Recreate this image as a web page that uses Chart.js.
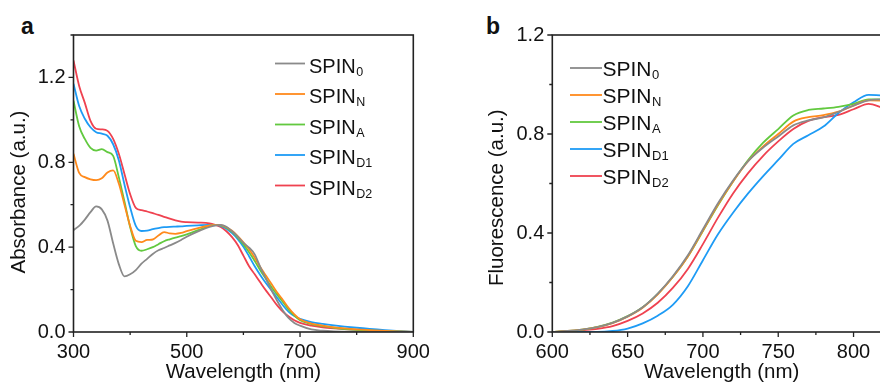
<!DOCTYPE html>
<html>
<head>
<meta charset="utf-8">
<script src="https://cdn.jsdelivr.net/npm/chart.js@4.4.0/dist/chart.umd.min.js"></script>
<style>
  html, body { margin: 0; padding: 0; background: #fff; overflow: hidden; }
  body { width: 880px; height: 383px; position: relative; }
  .panel { position: absolute; top: 0; height: 385px; }
  #boxA { left: 0; width: 440px; }
  #boxB { left: 440px; width: 460px; }
  .tag { position: absolute; top: 15px; font: bold 23px "Liberation Sans", Arial, sans-serif; line-height: 23px; color: #111; }
</style>
</head>
<body>
<div class="tag" style="left:21px">a</div>
<div class="tag" style="left:486px">b</div>
<div class="panel" id="boxA"><canvas id="absChart" width="440" height="385"></canvas></div>
<div class="panel" id="boxB"><canvas id="fluChart" width="460" height="385"></canvas></div>
<script>
// --- data ---
const wavelengthsA = [300, 310, 320, 330, 340, 350, 360, 370, 380, 390, 400, 410, 420, 430, 440, 450, 460, 470, 480, 490, 500,
  520, 540, 550, 560, 570, 580, 590, 600, 610, 620, 630, 640, 650, 660, 670, 680, 690, 700, 720, 740, 760, 800, 850, 900];
const absSpin0 = [0.48, 0.50, 0.53, 0.565, 0.592, 0.578, 0.525, 0.418, 0.32, 0.262, 0.272, 0.292, 0.322, 0.345, 0.368, 0.385, 0.396, 0.408, 0.42, 0.434, 0.449,
  0.474, 0.495, 0.502, 0.505, 0.496, 0.475, 0.45, 0.42, 0.398, 0.366, 0.305, 0.25, 0.195, 0.145, 0.10, 0.065, 0.043, 0.03, 0.012, 0.006, 0.003, 0.001, 0, 0];
const absSpinN = [0.84, 0.75, 0.73, 0.72, 0.716, 0.725, 0.752, 0.762, 0.70, 0.60, 0.50, 0.43, 0.424, 0.434, 0.436, 0.455, 0.471, 0.465, 0.463, 0.467, 0.475,
  0.49, 0.502, 0.505, 0.504, 0.494, 0.477, 0.452, 0.423, 0.39, 0.35, 0.305, 0.265, 0.225, 0.185, 0.15, 0.113, 0.083, 0.06, 0.04, 0.03, 0.022, 0.012, 0.005, 0];
const absSpinA = [1.09, 0.97, 0.91, 0.868, 0.855, 0.862, 0.848, 0.83, 0.73, 0.615, 0.495, 0.405, 0.383, 0.39, 0.40, 0.414, 0.428, 0.437, 0.445, 0.452, 0.46,
  0.48, 0.499, 0.505, 0.503, 0.492, 0.472, 0.445, 0.413, 0.376, 0.335, 0.29, 0.25, 0.21, 0.175, 0.14, 0.105, 0.077, 0.055, 0.037, 0.028, 0.02, 0.01, 0.004, 0];
const absSpinD1 = [1.17, 1.065, 1.005, 0.965, 0.942, 0.935, 0.925, 0.885, 0.81, 0.695, 0.588, 0.50, 0.476, 0.478, 0.485, 0.49, 0.494, 0.496, 0.497, 0.498, 0.50,
  0.503, 0.505, 0.505, 0.50, 0.487, 0.466, 0.438, 0.402, 0.357, 0.31, 0.268, 0.23, 0.195, 0.16, 0.125, 0.095, 0.075, 0.062, 0.047, 0.038, 0.031, 0.02, 0.009, 0];
const absSpinD2 = [1.28, 1.16, 1.08, 0.995, 0.958, 0.955, 0.948, 0.91, 0.84, 0.745, 0.65, 0.585, 0.574, 0.568, 0.56, 0.552, 0.543, 0.534, 0.526, 0.52, 0.518,
  0.516, 0.512, 0.505, 0.495, 0.475, 0.447, 0.41, 0.36, 0.31, 0.272, 0.233, 0.195, 0.16, 0.124, 0.095, 0.073, 0.055, 0.043, 0.03, 0.022, 0.017, 0.01, 0.004, 0];

const wavelengthsB = [600, 610, 620, 630, 640, 650, 660, 670, 680, 690, 700, 710, 720, 730, 740, 750, 760, 770, 780, 790, 800, 810, 820, 825];
const fluSpin0 = [0, 0.004, 0.01, 0.02, 0.037, 0.063, 0.10, 0.155, 0.225, 0.31, 0.415, 0.52, 0.612, 0.69, 0.745, 0.79, 0.835, 0.855, 0.867, 0.89, 0.915, 0.936, 0.94, 0.938];
const fluSpinN = [0, 0.004, 0.01, 0.02, 0.036, 0.062, 0.098, 0.152, 0.222, 0.305, 0.41, 0.515, 0.608, 0.69, 0.75, 0.80, 0.85, 0.868, 0.876, 0.89, 0.915, 0.936, 0.935, 0.93];
const fluSpinA = [0, 0.004, 0.01, 0.021, 0.038, 0.064, 0.10, 0.154, 0.222, 0.305, 0.408, 0.512, 0.608, 0.695, 0.765, 0.82, 0.875, 0.897, 0.903, 0.91, 0.922, 0.94, 0.94, 0.937];
const fluSpinD1 = [0, 0, 0, 0, 0.004, 0.014, 0.035, 0.066, 0.11, 0.185, 0.29, 0.395, 0.482, 0.56, 0.63, 0.695, 0.76, 0.795, 0.83, 0.885, 0.928, 0.958, 0.955, 0.95];
const fluSpinD2 = [0, 0.002, 0.007, 0.013, 0.024, 0.045, 0.075, 0.118, 0.178, 0.255, 0.355, 0.462, 0.56, 0.642, 0.712, 0.77, 0.82, 0.853, 0.868, 0.877, 0.90, 0.922, 0.905, 0.90];

const seriesBase = 'SPIN';
const seriesSubs = ['0', 'N', 'A', 'D1', 'D2'];
const seriesColors = ['#8a8a8a', '#ff8a1c', '#62c93f', '#1e9bf5', '#ef4250'];

const xLabelsA = [300, 500, 700, 900];
const yLabelsA = ['0.0', '0.4', '0.8', '1.2'];
const xLabelsB = [600, 650, 700, 750, 800];
const yLabelsB = ['0.0', '0.4', '0.8', '1.2'];

const FONT = '"Liberation Sans", Arial, sans-serif';
const INK = '#111';

function makeDatasets(xs, seriesList) {
  return seriesList.map((vals, i) => ({
    label: seriesBase + seriesSubs[i],
    sub: seriesSubs[i],
    data: xs.map((x, j) => ({ x: x, y: vals[j] })),
    borderColor: seriesColors[i],
    borderWidth: 1.8,
    pointRadius: 0,
    cubicInterpolationMode: 'monotone',
    fill: false
  }));
}

// frame round the plot plus major / minor tick marks
const framePlugin = {
  id: 'frame',
  afterDraw(chart) {
    const { ctx, chartArea: a, scales } = chart;
    ctx.save();
    ctx.strokeStyle = '#222';
    ctx.lineWidth = 1.6;
    ctx.strokeRect(a.left, a.top, a.right - a.left, a.bottom - a.top);
    ctx.lineWidth = 1.3;
    ctx.beginPath();
    scales.x.ticks.forEach(t => {
      const px = scales.x.getPixelForValue(t.value);
      ctx.moveTo(px, a.bottom);
      ctx.lineTo(px, a.bottom + (t.label ? 5 : 3));
    });
    scales.y.ticks.forEach(t => {
      const py = scales.y.getPixelForValue(t.value);
      ctx.moveTo(a.left, py);
      ctx.lineTo(a.left - (t.label ? 5 : 3), py);
    });
    ctx.stroke();
    ctx.restore();
  }
};

// legend with subscripts
const subLegendPlugin = {
  id: 'subLegend',
  afterDatasetsDraw(chart, args, o) {
    const ctx = chart.ctx;
    chart.data.datasets.forEach((ds, i) => {
      const y = o.y + i * o.gap;
      ctx.save();
      ctx.strokeStyle = ds.borderColor;
      ctx.lineWidth = ds.borderWidth;
      ctx.beginPath();
      ctx.moveTo(o.x, y);
      ctx.lineTo(o.x + o.lineLen, y);
      ctx.stroke();
      ctx.fillStyle = INK;
      ctx.textBaseline = 'alphabetic';
      ctx.font = o.size + 'px ' + FONT;
      const tx = o.x + o.lineLen + o.textGap;
      ctx.fillText(seriesBase, tx, y + o.drop);
      const w = ctx.measureText(seriesBase).width;
      ctx.font = o.subSize + 'px ' + FONT;
      ctx.fillText(ds.sub, tx + w + 0.5, y + o.drop + 3);
      ctx.restore();
    });
  }
};

function makeOptions(p) {
  return {
    responsive: false,
    animation: false,
    layout: { padding: p.pad },
    plugins: {
      legend: { display: false },
      tooltip: { enabled: false },
      subLegend: p.legend
    },
    scales: {
      x: {
        type: 'linear',
        min: p.xMin,
        max: p.xMax,
        ticks: {
          stepSize: p.xStep,
          autoSkip: false,
          maxRotation: 0,
          padding: 3,
          color: INK,
          font: { family: FONT, size: 20 },
          callback: v => p.xLabels.includes(Math.round(v)) ? String(Math.round(v)) : ''
        },
        grid: { drawOnChartArea: false, tickLength: 5, tickColor: 'transparent' },
        border: { display: false },
        title: {
          display: true,
          text: 'Wavelength (nm)',
          color: INK,
          font: { family: FONT, size: 20.5 },
          padding: { top: 0, bottom: 0 }
        },
        afterFit: s => { s.height = 53; s.paddingLeft = 0; s.paddingRight = 0; }
      },
      y: {
        type: 'linear',
        min: 0,
        max: p.yMax,
        ticks: {
          stepSize: 0.2,
          autoSkip: false,
          padding: 3,
          color: INK,
          font: { family: FONT, size: 20 },
          callback: v => p.yLabels.includes(v.toFixed(1)) ? v.toFixed(1) : ''
        },
        grid: { drawOnChartArea: false, tickLength: 5, tickColor: 'transparent' },
        border: { display: false },
        title: {
          display: true,
          text: p.yTitle,
          color: INK,
          font: { family: FONT, size: 20.5 },
          padding: { top: p.yTitlePad, bottom: 0 }
        },
        afterFit: s => { s.width = p.yWidth; s.paddingTop = 0; s.paddingBottom = 0; }
      }
    }
  };
}

new Chart(document.getElementById('absChart'), {
  type: 'line',
  data: { datasets: makeDatasets(wavelengthsA, [absSpin0, absSpinN, absSpinA, absSpinD1, absSpinD2]) },
  options: makeOptions({
    pad: { left: 0, top: 35, right: 26.7, bottom: 0 },
    xMin: 300, xMax: 900, xStep: 100, xLabels: xLabelsA,
    yMax: 1.4, yLabels: yLabelsA,
    yTitle: 'Absorbance (a.u.)   ', yTitlePad: 7.2, yWidth: 73.5,
    legend: { x: 275, y: 63.5, gap: 30.5, lineLen: 30, textGap: 4, size: 20, subSize: 12.5, drop: 9 }
  }),
  plugins: [framePlugin, subLegendPlugin]
});

new Chart(document.getElementById('fluChart'), {
  type: 'line',
  data: { datasets: makeDatasets(wavelengthsB, [fluSpin0, fluSpinN, fluSpinA, fluSpinD1, fluSpinD2]) },
  options: makeOptions({
    pad: { left: 0, top: 35, right: 8.8, bottom: 0 },
    xMin: 600, xMax: 825, xStep: 25, xLabels: xLabelsB,
    yMax: 1.2, yLabels: yLabelsB,
    yTitle: 'Fluorescence (a.u.)     ', yTitlePad: 44.7, yWidth: 112.3,
    legend: { x: 130, y: 68, gap: 27, lineLen: 32, textGap: 0.5, size: 21, subSize: 13, drop: 8 }
  }),
  plugins: [framePlugin, subLegendPlugin]
});
</script>
</body>
</html>
